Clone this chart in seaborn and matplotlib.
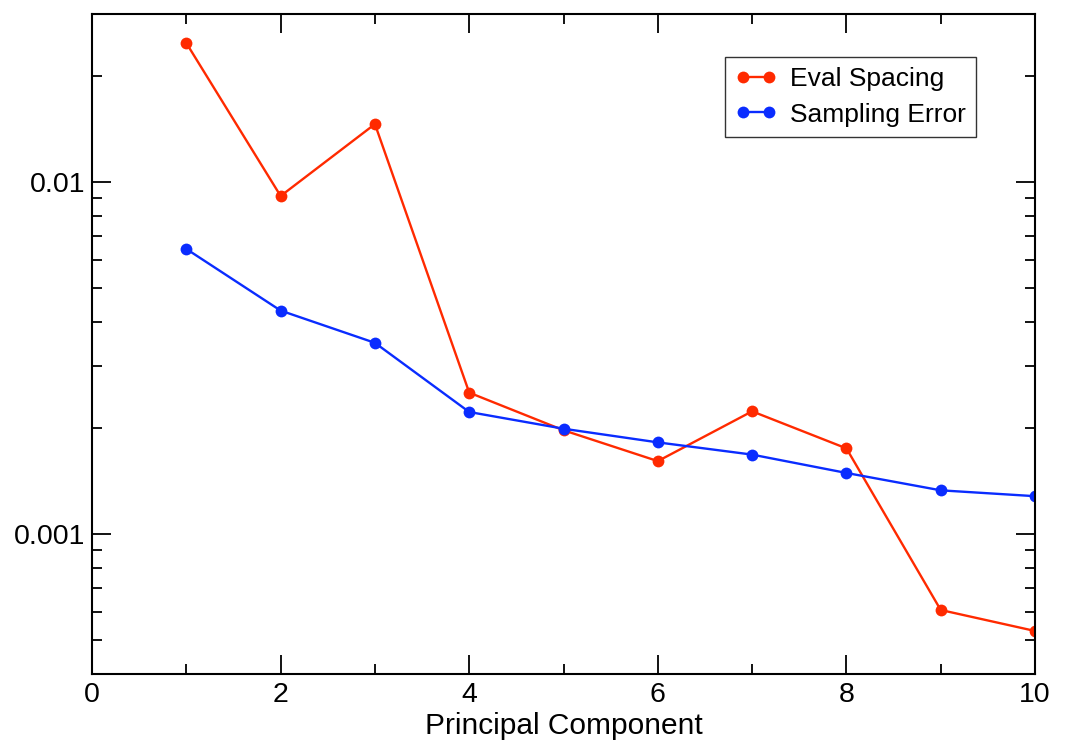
import numpy as np
import pandas as pd
import matplotlib
matplotlib.use("Agg")
import matplotlib.pyplot as plt
import seaborn as sns
from matplotlib.ticker import LogLocator, FixedLocator, NullFormatter, FixedFormatter

components = [1, 2, 3, 4, 5, 6, 7, 8, 9, 10]
eval_spacing = [0.0248, 0.00912, 0.0146, 0.00252, 0.00197, 0.00161, 0.00223, 0.00175, 0.000608, 0.000530]
sampling_error = [0.00645, 0.00431, 0.00349, 0.00222, 0.00199, 0.00182, 0.00168, 0.00149, 0.00133, 0.00128]
series_names = ["Eval Spacing", "Sampling Error"]
colors = ["#ff2a00", "#0a2cff"]

df = pd.DataFrame({
    "Principal Component": components * 2,
    "value": eval_spacing + sampling_error,
    "series": [series_names[0]] * len(components) + [series_names[1]] * len(components),
})

sns.set_theme(style="white")
plt.rcParams['font.family'] = ['Liberation Sans', 'DejaVu Sans']
plt.rcParams['text.color'] = 'black'

fig = plt.figure(figsize=(10.69, 7.44), dpi=100)
ax = fig.add_axes([0.0861, 0.0941, 0.8821, 0.8871])

sns.lineplot(data=df, x="Principal Component", y="value", hue="series",
             palette=dict(zip(series_names, colors)), marker="o", markersize=8.5,
             markeredgewidth=0, linewidth=1.7, ax=ax, legend=True)

ax.set_yscale("log")
ax.set_xlim(0, 10)
ax.set_ylim(0.0004, 0.03)

ax.xaxis.set_major_locator(FixedLocator([0, 2, 4, 6, 8, 10]))
ax.xaxis.set_minor_locator(FixedLocator([1, 3, 5, 7, 9]))
ax.yaxis.set_major_locator(FixedLocator([0.001, 0.01]))
ax.yaxis.set_major_formatter(FixedFormatter(["0.001", "0.01"]))
ax.yaxis.set_minor_locator(LogLocator(base=10, subs=np.arange(2, 10)))
ax.yaxis.set_minor_formatter(NullFormatter())

ax.tick_params(which="both", direction="in", top=True, right=True, bottom=True, left=True,
               labelsize=20.5, colors="black", width=1.3)
ax.tick_params(which="major", length=13.5)
ax.tick_params(axis="x", which="major", pad=6)
ax.tick_params(axis="y", which="major", pad=5)
ax.tick_params(which="minor", length=7)

for s in ax.spines.values():
    s.set_color("black")
    s.set_linewidth(1.5)

ax.set_xlabel("Principal Component", fontsize=21.5, color="black", labelpad=3)
ax.set_ylabel("")

leg = ax.legend(loc="upper right", bbox_to_anchor=(0.9375, 0.935),
                numpoints=2, fontsize=19, frameon=True, fancybox=False,
                edgecolor="black", handlelength=1.55, borderpad=0.4, labelspacing=0.42,
                handletextpad=0.5, borderaxespad=0)
leg.get_frame().set_linewidth(1.0)
for t in leg.get_texts():
    t.set_color("black")

fig.savefig("out.png", dpi=100, facecolor="white")
